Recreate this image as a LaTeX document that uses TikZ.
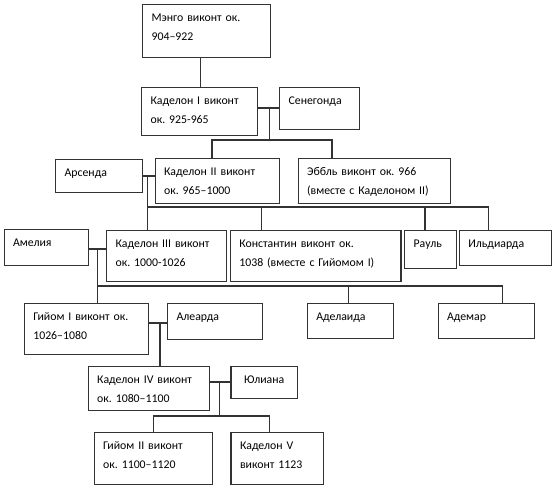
\documentclass[tikz,border=0pt]{standalone}
\usepackage{fontspec}
\setmainfont{Carlito}
\begin{document}
\begin{tikzpicture}[x=1pt,y=-1pt,
  box/.style={draw=black!80, line width=1.2pt, anchor=north west, inner xsep=9pt, inner ysep=0pt,
    text height=17pt, align=left, font=\fontsize{11.8}{19}\selectfont\frenchspacing, text=black},
  ln/.style={draw=black!80, line width=1.2pt}]
\useasboundingbox (0,0) rectangle (554,488);
% boxes
\node[box, text width=110pt, text depth=36.5pt] (mengo) at (142,3.5) {Мэнго виконт ок.\\904–922};
\node[box, text width=97.5pt, text depth=31pt] (kad1) at (141,87) {Каделон I виконт\\ок. 925-965};
\node[box, text width=62pt, text depth=25pt] (seneg) at (279,87) {Сенегонда};
\node[box, text width=69pt, text depth=16pt] (arsenda) at (55,159) {Арсенда};
\node[box, text width=106.5pt, text depth=28pt] (kad2) at (154.5,158) {Каделон II виконт\\ок. 965–1000};
\node[box, text width=134pt, text depth=28pt] (ebbl) at (297.5,158) {Эббль виконт ок. 966\\(вместе с Каделоном II)};
\node[box, text width=66pt, text depth=19pt] (amelia) at (3.5,229) {Амелия};
\node[box, text width=102pt, text depth=34pt] (kad3) at (106,230) {Каделон III виконт\\ок. 1000-1026};
\node[box, text width=152.7pt, text depth=34pt] (konst) at (229.7,230) {Константин виконт ок.\\1038 (вместе с Гийомом I)};
\node[box, text width=33.8pt, text depth=21pt] (raul) at (404,230) {Рауль};
\node[box, text width=74.3pt, text depth=18pt] (ild) at (458.7,230) {Ильдиарда};
\node[box, text width=106pt, text depth=34pt] (guil1) at (23.7,303) {Гийом I виконт ок.\\1026–1080};
\node[box, text width=76.5pt, text depth=19pt] (alearda) at (167,303) {Алеарда};
\node[box, text width=68.3pt, text depth=18pt] (adel) at (306.7,303) {Аделаида};
\node[box, text width=78.5pt, text depth=18pt] (ademar) at (437.5,303) {Адемар};
\node[box, text width=103.4pt, text depth=27pt] (kad4) at (87.6,366) {Каделон IV виконт\\ок. 1080–1100};
\node[box, text width=48.4pt, text depth=15pt, align=center] (yul) at (230.4,366) {Юлиана};
\node[box, text width=100.4pt, text depth=35pt] (guil2) at (93.6,432) {Гийом II виконт\\ок. 1100–1120};
\node[box, text width=74.2pt, text depth=35pt] (kad5) at (230.4,432) {Каделон V\\виконт 1123};
% junction coordinates
\coordinate (c1) at (200.7,0);
\coordinate (j1) at (269.3,108);
\coordinate (b1) at (269.3,140);
\coordinate (l1) at (212,140);
\coordinate (r1) at (332,140);
\coordinate (j2) at (147.7,176);
\coordinate (k2) at (261.5,207);
\coordinate (ra2) at (425,207);
\coordinate (r2) at (488.7,207);
\coordinate (j3) at (97.5,249);
\coordinate (a3) at (348.8,286);
\coordinate (r3) at (502.8,286);
\coordinate (j4) at (160,323);
\coordinate (j5) at (219.8,382);
\coordinate (b5) at (219.8,416);
\coordinate (l5) at (153.7,416);
\coordinate (r5) at (269.3,416);
% connectors
\draw[ln] (mengo.south -| c1) -- (kad1.north -| c1);
\draw[ln] (kad1.east |- j1) -- (seneg.west |- j1);
\draw[ln] (j1) -- (b1);
\draw[ln] (kad2.north -| l1) -- (l1) -- (r1) -- (ebbl.north -| r1);
\draw[ln] (arsenda.east |- j2) -- (kad2.west |- j2);
\draw[ln] (j2) -- (kad3.north -| j2);
\draw[ln] (j2 |- r2) -- (r2) -- (ild.north -| r2);
\draw[ln] (k2) -- (konst.north -| k2);
\draw[ln] (ra2) -- (raul.north -| ra2);
\draw[ln] (amelia.east |- j3) -- (kad3.west |- j3);
\draw[ln] (j3) -- (guil1.north -| j3);
\draw[ln] (j3 |- r3) -- (r3) -- (ademar.north -| r3);
\draw[ln] (a3) -- (adel.north -| a3);
\draw[ln] (guil1.east |- j4) -- (alearda.west |- j4);
\draw[ln] (j4) -- (kad4.north -| j4);
\draw[ln] (kad4.east |- j5) -- (yul.west |- j5);
\draw[ln] (j5) -- (b5);
\draw[ln] (guil2.north -| l5) -- (l5) -- (r5) -- (kad5.north -| r5);
\end{tikzpicture}
\end{document}
